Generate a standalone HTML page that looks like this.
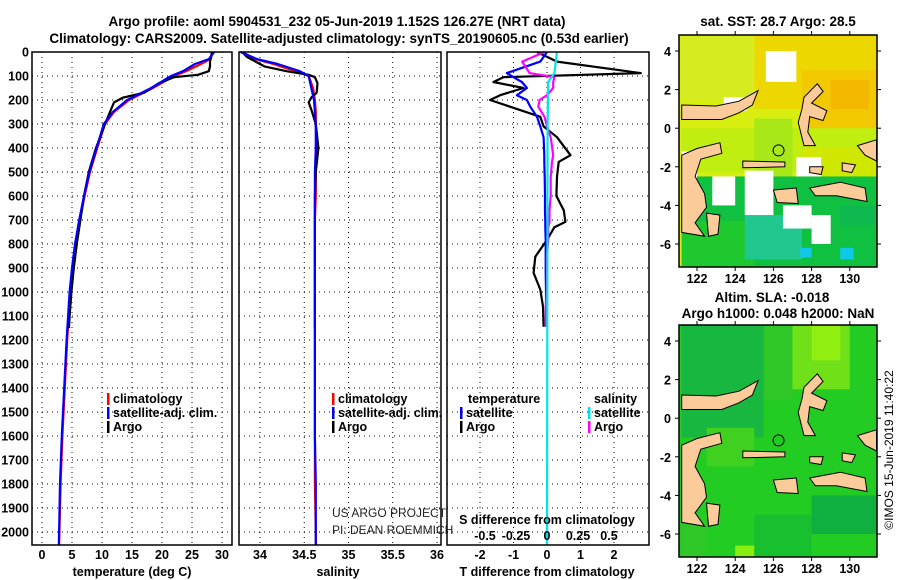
<!DOCTYPE html>
<html><head><meta charset="utf-8">
<style>
html,body{margin:0;padding:0;background:#fff;}
svg{display:block;font-family:"Liberation Sans",Arial,sans-serif;}
.t{font-weight:bold;font-size:13.5px;}
.tk{font-weight:bold;font-size:12.5px;}
.lg{font-size:12.5px;font-weight:bold;}
.cr{font-weight:normal;font-size:12px;fill:#222;}
</style></head>
<body>
<svg id="fig" width="900" height="580" viewBox="0 0 900 580" xmlns="http://www.w3.org/2000/svg">
<text class="t" x="337" y="26" text-anchor="middle">Argo profile: aoml 5904531_232 05-Jun-2019 1.152S 126.27E (NRT data)</text>
<text class="t" x="339" y="43" text-anchor="middle">Climatology: CARS2009. Satellite-adjusted climatology: synTS_20190605.nc (0.53d earlier)</text>
<g id="plots"></g>
<g id="maps"></g>
<text x="893" y="450" font-size="12" text-anchor="middle" transform="rotate(-90 893 450)">©IMOS 15-Jun-2019 11:40:22</text>
</svg>
<script>
// ---------- data ----------
const depthTicks=[0,100,200,300,400,500,600,700,800,900,1000,1100,1200,1300,1400,1500,1600,1700,1800,1900,2000];
const tempTicks=[0,5,10,15,20,25,30];
const salTicks=[34,34.5,35,35.5,36];
const salTickLabels=["34","34.5","35","35.5","36"];
const tdiffTicks=[-2,-1,0,1,2];
const sdiffTicks=[-0.5,-0.25,0,0.25,0.5];
const sdiffTickLabels=["-0.5","-0.25","0","0.25","0.5"];

const climDepth=[0,30,50,80,100,150,200,250,300,400,500,600,700,800,900,1000,1200,1400,1600,1800,2000,2055];
const climTemp=[28.5,28,26.5,24,22,18.5,14.5,12,10.5,9.2,8,7.1,6.3,5.6,5.1,4.7,4.2,3.8,3.4,3.1,2.9,2.85];
const satTemp=[28.7,27.8,25.5,23.5,21.5,18.2,14.2,11.8,10.3,9.1,7.9,7.0,6.2,5.5,5.0,4.6,4.1,3.7,3.3,3.0,2.85,2.8];
const argoDepth=[0,20,40,60,80,95,105,130,170,190,210,240,300,400,500,600,700,800,900,1000,1100,1150];
const argoTemp=[28.3,28.2,28,28,27.8,26,22,19.5,17,13.5,12,11.5,10.5,9,7.8,7,6.4,5.8,5.3,4.9,4.6,4.5];

const climSal=[33.8,33.95,34.15,34.4,34.55,34.6,34.62,34.63,34.63,34.64,34.63,34.63,34.62,34.62,34.62,34.62,34.62,34.62,34.62,34.62,34.63,34.63];
const satSal=[33.78,33.97,34.2,34.45,34.55,34.58,34.61,34.62,34.63,34.63,34.62,34.62,34.62,34.62,34.62,34.62,34.62,34.62,34.62,34.63,34.63,34.63];
const argoSal=[33.8,33.85,33.95,34.05,34.3,34.55,34.62,34.65,34.64,34.58,34.55,34.58,34.63,34.66,34.63,34.62,34.62,34.62,34.62,34.62,34.62,34.62];

const diffDepth=[0,40,88,105,125,150,180,200,228,270,310,355,430,458,520,600,660,708,730,783,853,920,990,1060,1145];
const argoTdiff=[-0.3,0.3,2.8,-1.3,-1.6,-0.7,-1.4,-1.7,-1.1,-0.2,-0.1,0.3,0.7,0.35,0.3,0.28,0.5,0.55,0.22,0,-0.35,-0.4,-0.2,-0.12,-0.1];
const satTdiff=[0,-0.2,-1.2,-1.0,-0.75,-0.6,-0.9,-0.6,-0.5,-0.3,-0.2,-0.1,-0.08,-0.08,-0.07,-0.06,-0.06,-0.05,-0.05,-0.04,-0.04,-0.04,-0.03,-0.03,-0.03];
const argoSdiff=[-0.02,-0.2,-0.14,0.06,0.05,0.05,0.0,-0.06,-0.07,-0.02,0,0.03,0.05,0.04,0.03,0.03,0.02,0.02,0.01,0.01,0.0,0.0,0.0,-0.01,-0.01];
const satSdiffDepth=[0,88,125,300,2055];
const satSdiff=[0.08,0.06,0.01,0.005,0.0];

const NS="http://www.w3.org/2000/svg";
function mk(tag,attrs,parent,txt){const e=document.createElementNS(NS,tag);for(const k in attrs)e.setAttribute(k,attrs[k]);if(txt!==undefined)e.textContent=txt;parent.appendChild(e);return e;}

const Y0=52, DS=0.24, BOT=545;
const yD=d=>Y0+d*DS;
const panels=[
  {x0:32,x1:232,name:"temperature"},
  {x0:239,x1:441,name:"salinity"},
  {x0:447,x1:649,name:"difference"}];
const xT=v=>42+v*6;
const xS=v=>260+(v-34)*88.5;
const xTd=v=>547+v*33.5;
const xSd=v=>547+v*124;

const G=document.getElementById('plots');
function grid(p,xs){
  for(const d of depthTicks){const y=yD(d);
    const l=mk('line',{x1:p.x0,x2:p.x1,y1:y,y2:y,stroke:'#000','stroke-width':1,'stroke-dasharray':'1,4'},G);
    
    }
  for(const x of xs){
    const l=mk('line',{x1:x,x2:x,y1:Y0,y2:BOT,stroke:'#000','stroke-width':1,'stroke-dasharray':'1,4'},G);
    
    }
}
function frame(p){
  const r=mk('rect',{x:p.x0,y:Y0,width:p.x1-p.x0,height:BOT-Y0,fill:'none',stroke:'#000','stroke-width':1.5},G);
  
  
}
function line(xs,ds,fx,color,name){
  const pts=xs.map((v,i)=>fx(v).toFixed(1)+','+yD(ds[i]).toFixed(1)).join(' ');
  const pl=mk('polyline',{points:pts,fill:'none',stroke:color,'stroke-width':2.2,'stroke-linejoin':'round'},G);
  
  
}
grid(panels[0],tempTicks.map(xT));
line(climTemp,climDepth,xT,'#ff0000','temp-climatology-line');
line(argoTemp,argoDepth,xT,'#000000','temp-argo-line');
line(satTemp,climDepth,xT,'#0000ff','temp-satellite-line');
frame(panels[0]);
grid(panels[1],salTicks.map(xS));
line(climSal,climDepth,xS,'#ff0000','sal-climatology-line');
line(argoSal,argoDepth,xS,'#000000','sal-argo-line');
line(satSal,climDepth,xS,'#0000ff','sal-satellite-line');
frame(panels[1]);
grid(panels[2],tdiffTicks.map(xTd));
line(argoTdiff,diffDepth,xTd,'#000000','tdiff-argo-line');
line(satTdiff,diffDepth,xTd,'#0000ff','tdiff-satellite-line');
line(argoSdiff,diffDepth,xSd,'#ff00ff','sdiff-argo-line');
line(satSdiff,satSdiffDepth,xSd,'#00e5e5','sdiff-satellite-line');
frame(panels[2]);

for(const d of depthTicks){
  const t=mk('text',{x:29,y:yD(d)+4.5,class:'tk','text-anchor':'end'},G,String(d));
  
  
}
function xlabels(ticks,labels,fx,y){
  ticks.forEach((v,i)=>{const t=mk('text',{x:fx(v),y:y,class:'tk','text-anchor':'middle'},G,labels[i]);
    
    });
}
xlabels(tempTicks,tempTicks.map(String),xT,559);
xlabels(salTicks,salTickLabels,xS,559);
xlabels(tdiffTicks,tdiffTicks.map(String),xTd,559);
xlabels(sdiffTicks,sdiffTickLabels,xSd,540);
function txt(x,y,s,name,cls,anchor){const t=mk('text',{x:x,y:y,class:cls||'tk','text-anchor':anchor||'start'},G,s);
  
  return t;}
txt(132,576,'temperature (deg C)','x-axis-title-temperature','tk','middle');
txt(338,576,'salinity','x-axis-title-salinity','tk','middle');
txt(547,576,'T difference from climatology','x-axis-title-tdiff','tk','middle');
txt(547,524,'S difference from climatology','sdiff-axis-title','tk','middle');
txt(332,517,'US ARGO PROJECT','credit-project','cr','start');
txt(332,534,'PI: DEAN ROEMMICH','credit-pi','cr','start');

function legendEntry(x,y,color,label,name){
  const r=mk('rect',{x:x,y:y-10,width:2.5,height:12,fill:color},G);
  
  
  txt(x+6,y,label,name,'lg');
}
legendEntry(107,403,'#ff0000','climatology','legend-temp-climatology');
legendEntry(107,417,'#0000ff','satellite-adj. clim.','legend-temp-satellite');
legendEntry(107,431,'#000000','Argo','legend-temp-argo');
legendEntry(332,403,'#ff0000','climatology','legend-sal-climatology');
legendEntry(332,417,'#0000ff','satellite-adj. clim.','legend-sal-satellite');
legendEntry(332,431,'#000000','Argo','legend-sal-argo');
txt(468,403,'temperature','legend-tdiff-header','lg');
txt(594,403,'salinity','legend-sdiff-header','lg');
legendEntry(460,417,'#0000ff','satellite','legend-tdiff-satellite');
legendEntry(460,431,'#000000','Argo','legend-tdiff-argo');
legendEntry(588,417,'#00e5e5','satellite','legend-sdiff-satellite');
legendEntry(588,431,'#ff00ff','Argo','legend-sdiff-argo');

// ---------- maps ----------
const M=document.getElementById('maps');
const latTicks=[4,2,0,-2,-4,-6];
const lonTicks=[122,124,126,128,130];
const MX0=679,MX1=877;
const mX=lon=>697+(lon-122)*19.1;
function map(top,bottom,name,bg,patches){
  const yL=lat=>top+16+(4-lat)*19.3;
  const g=mk('g',{},M);
  
  
  mk('defs',{},g).innerHTML=`<clipPath id="c${name}"><rect x="${MX0}" y="${top}" width="${MX1-MX0}" height="${bottom-top}"/></clipPath>`;
  const inner=mk('g',{'clip-path':`url(#c${name})`},g);
  mk('rect',{x:MX0,y:top,width:MX1-MX0,height:bottom-top,fill:bg},inner);
  for(const p of patches){
    mk('rect',{x:mX(p[0]),y:yL(p[3]),width:mX(p[1])-mX(p[0]),height:yL(p[2])-yL(p[3]),fill:p[4]},inner);
  }
  const lands=[
    [[121.2,1.2],[123,1.15],[124.2,1.4],[125.2,1.95],[124.9,1.2],[124.2,0.8],[123.3,0.45],[121.2,0.45]],
    [[121.2,-1.4],[122,-1.05],[123.2,-0.75],[123.3,-1.3],[122.2,-1.6],[121.9,-2.5],[122.4,-3.4],[122.5,-4.1],[121.9,-4.9],[122.4,-5.6],[121.2,-5.4]],
    [[122.5,-4.4],[123.2,-4.5],[123.1,-5.5],[122.6,-5.6]],
    [[127.6,1.6],[128.3,2.3],[128.6,1.9],[128.0,1.3],[128.8,0.9],[128.6,0.4],[127.9,0.6],[127.8,-0.2],[128.2,-0.9],[127.6,-0.9],[127.3,0.3],[127.5,1.0]],
    [[124.4,-1.7],[126.6,-1.75],[126.6,-2.0],[124.4,-2.05]],
    [[126.0,-3.2],[127.2,-3.1],[127.3,-3.9],[126.2,-3.85]],
    [[127.9,-3.1],[129.5,-2.8],[130.8,-3.1],[130.9,-3.8],[129.3,-3.5],[128.2,-3.5]],
    [[127.9,-2.0],[128.6,-2.0],[128.5,-2.4],[127.9,-2.3]],
    [[130.4,-0.9],[131.4,-0.6],[131.4,-1.7],[130.8,-1.4]],
    [[129.6,-1.8],[130.3,-1.9],[130.1,-2.3],[129.6,-2.2]]
  ];
  for(const L of lands){
    const pg=mk('polygon',{points:L.map(q=>mX(q[0]).toFixed(1)+','+yL(q[1]).toFixed(1)).join(' '),fill:'#fccb9a',stroke:'#000','stroke-width':1},inner);
    
    
  }
  const c=mk('circle',{cx:mX(126.27),cy:yL(-1.152),r:5.5,fill:'none',stroke:'#000','stroke-width':1},inner);
  
  
  const f=mk('rect',{x:MX0,y:top,width:MX1-MX0,height:bottom-top,fill:'none',stroke:'#000','stroke-width':1.5},g);
  
  
  for(const la of latTicks){const y=yL(la);
    mk('line',{x1:MX0-4,x2:MX0,y1:y,y2:y,stroke:'#000'},g);mk('line',{x1:MX1,x2:MX1+4,y1:y,y2:y,stroke:'#000'},g);
    const t=mk('text',{x:MX0-8,y:y+5,class:'tk','text-anchor':'end'},g,String(la));
    
    }
  for(const lo of lonTicks){const x=mX(lo);
    mk('line',{x1:x,x2:x,y1:bottom,y2:bottom+4,stroke:'#000'},g);mk('line',{x1:x,x2:x,y1:top-4,y2:top,stroke:'#000'},g);
    const t=mk('text',{x:x,y:bottom+16,class:'tk','text-anchor':'middle'},g,String(lo));
    
    }
}
map(35,267,'sst-map','#d8ee10',[
  [121.2,125,1.5,4.8,'#d4ec20'],[125,131.4,1,4.8,'#ecd800'],[127.5,131.4,-1,3,'#f2c800'],[129,131,1,2.5,'#f5b800'],
  [121.2,131.4,-2.3,0,'#c0ee10'],[125,127,-2.5,0.5,'#a8e818'],[127.5,131.4,-3,-1,'#d0e800'],
  [121.2,131.4,-7.2,-2.5,'#10c040'],[121.2,125,-7.2,-4.8,'#20c830'],[124.5,127.5,-6.8,-4.5,'#20c890'],
  [125.6,127.2,2.4,4.0,'#ffffff'],[123.4,124.6,0.9,1.6,'#ffffff'],[121.2,122,-4,-1.2,'#ffffff'],
  [124.5,126,-4.5,-2.2,'#ffffff'],[127.2,128.5,-2.5,-1.5,'#ffffff'],[126.5,128,-5.2,-4.0,'#ffffff'],
  [128,129,-6,-4.5,'#ffffff'],[122.8,124,-4,-2.5,'#ffffff'],[129.5,131.4,-5,-4,'#10b850'],[129.5,130.2,-6.8,-6.2,'#10c8e8'],[127.4,128,-6.7,-6.2,'#10c8e8']
]);
map(325,557,'sla-map','#22cc22',[
  [121.2,125.5,-1,4.8,'#18b840'],[125.5,127,1,4.8,'#30c828'],[127,130,1.5,4.8,'#70e018'],[128,129.5,3,4.8,'#90ee10'],
  [122.5,125,-2.5,-0.5,'#40d020'],[121.2,122.5,-7.2,-5,'#30c828'],[124,125.5,-7.2,-6.6,'#88ee10'],
  [128,131.4,-6,-4,'#10b040'],[125,128,-7.2,-5,'#18c030']
]);
const mt=(x,y,s,n)=>{const t=mk('text',{x:x,y:y,class:'t','text-anchor':'middle'},M,s);};
mt(778,26,'sat. SST: 28.7 Argo: 28.5','sst-map-title');
mt(772,302,'Altim. SLA: -0.018','sla-map-title-1');
mt(778,318,'Argo h1000: 0.048 h2000: NaN','sla-map-title-2');
</script>
</body></html>
